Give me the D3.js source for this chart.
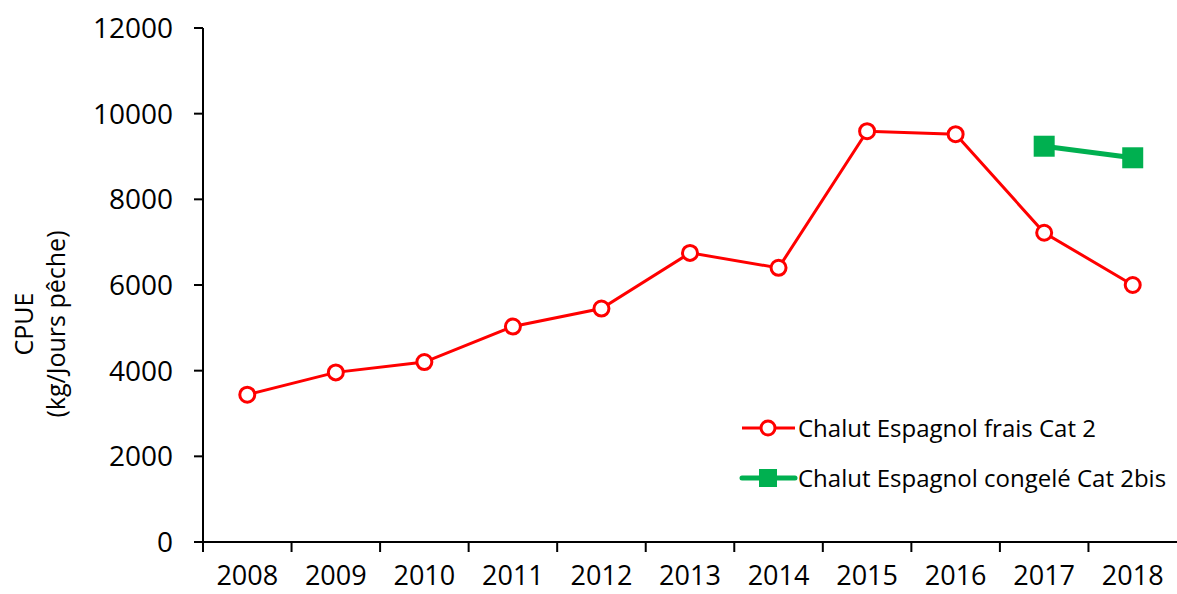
<!DOCTYPE html>
<html>
<head>
<meta charset="utf-8">
<script src="https://cdn.jsdelivr.net/npm/d3@7"></script>
<style>
  body { margin: 0; background: #fff; }
  text { font-family: "Open Sans", sans-serif; fill: #000; }
</style>
</head>
<body>
<div id="chart"></div>
<script>
// données
const years = ["2008", "2009", "2010", "2011", "2012", "2013", "2014", "2015", "2016", "2017", "2018"];
const fraisValues = [3440, 3960, 4200, 5030, 5450, 6750, 6400, 9590, 9520, 7220, 6000];
const congeleValues = [null, null, null, null, null, null, null, null, null, 9240, 8970];
const yTicks = [0, 2000, 4000, 6000, 8000, 10000, 12000];
const seriesNames = ["Chalut Espagnol frais Cat 2", "Chalut Espagnol congelé Cat 2bis"];

const width = 1177;
const height = 594;
const red = "#ff0000";
const green = "#00b050";

const svg = d3.select("#chart")
  .append("svg")
  .attr("width", width)
  .attr("height", height);

const x = d3.scaleBand()
  .domain(years)
  .range([203, 1177])
  .padding(0);

const y = d3.scaleLinear()
  .domain([0, 12000])
  .range([542, 28]);

// axe Y
const yAxis = svg.append("g");
yAxis.append("line")
  .attr("x1", 203).attr("x2", 203)
  .attr("y1", y(12000)).attr("y2", y(0))
  .attr("stroke", "#000").attr("stroke-width", 2);
yAxis.selectAll(".ytick")
  .data(yTicks)
  .join("line")
  .attr("x1", 194).attr("x2", 203)
  .attr("y1", d => y(d)).attr("y2", d => y(d))
  .attr("stroke", "#000").attr("stroke-width", 2);
yAxis.selectAll("text")
  .data(yTicks)
  .join("text")
  .attr("x", 173)
  .attr("y", d => y(d))
  .attr("dy", "0.36em")
  .attr("text-anchor", "end")
  .style("font-size", "28px")
  .text(d => d);

// axe X (graduations entre les catégories)
const xAxis = svg.append("g");
xAxis.append("line")
  .attr("x1", 195).attr("x2", 1177)
  .attr("y1", y(0)).attr("y2", y(0))
  .attr("stroke", "#000").attr("stroke-width", 2);
xAxis.selectAll(".xtick")
  .data(years)
  .join("line")
  .attr("x1", d => x(d)).attr("x2", d => x(d))
  .attr("y1", y(0)).attr("y2", y(0) + 10)
  .attr("stroke", "#000").attr("stroke-width", 2);
xAxis.selectAll("text")
  .data(years)
  .join("text")
  .attr("x", d => x(d) + x.bandwidth() / 2)
  .attr("y", 585)
  .attr("text-anchor", "middle")
  .style("font-size", "27px")
  .text(d => d);

// titre de l'axe Y
const yTitle = svg.append("text")
  .attr("transform", "translate(33,324) rotate(-90)")
  .attr("text-anchor", "middle")
  .style("font-size", "25px");
yTitle.append("tspan").attr("x", 0).attr("y", 0).text("CPUE");
yTitle.append("tspan").attr("x", 0).attr("y", 32).text("(kg/Jours pêche)");

const cx = i => x(years[i]) + x.bandwidth() / 2;

// série frais
const line = d3.line()
  .defined(d => d != null)
  .x((d, i) => cx(i))
  .y(d => y(d));

svg.append("path")
  .datum(fraisValues)
  .attr("fill", "none")
  .attr("stroke", red)
  .attr("stroke-width", 3)
  .attr("d", line);

svg.append("g")
  .selectAll("circle")
  .data(fraisValues)
  .join("circle")
  .attr("cx", (d, i) => cx(i))
  .attr("cy", d => y(d))
  .attr("r", 7.5)
  .attr("fill", "#fff")
  .attr("stroke", red)
  .attr("stroke-width", 3);

// série congelé
svg.append("path")
  .datum(congeleValues)
  .attr("fill", "none")
  .attr("stroke", green)
  .attr("stroke-width", 5)
  .attr("d", line);

svg.append("g")
  .selectAll("rect")
  .data(congeleValues.map((v, i) => ({ v, i })).filter(d => d.v != null))
  .join("rect")
  .attr("x", d => cx(d.i) - 10.5)
  .attr("y", d => y(d.v) - 10.5)
  .attr("width", 21)
  .attr("height", 21)
  .attr("fill", green);

// légende
const legend = svg.append("g");
const legendY = [428, 478];

legend.append("line")
  .attr("x1", 742).attr("x2", 795)
  .attr("y1", legendY[0]).attr("y2", legendY[0])
  .attr("stroke", red).attr("stroke-width", 3);
legend.append("circle")
  .attr("cx", 768).attr("cy", legendY[0]).attr("r", 7)
  .attr("fill", "#fff").attr("stroke", red).attr("stroke-width", 3);

legend.append("line")
  .attr("x1", 742).attr("x2", 795)
  .attr("y1", legendY[1]).attr("y2", legendY[1])
  .attr("stroke", green).attr("stroke-width", 5).attr("stroke-linecap", "round");
legend.append("rect")
  .attr("x", 759).attr("y", legendY[1] - 9)
  .attr("width", 18).attr("height", 18)
  .attr("fill", green);

legend.selectAll("text")
  .data(seriesNames)
  .join("text")
  .attr("x", 798)
  .attr("y", (d, i) => legendY[i])
  .attr("dy", "0.36em")
  .style("font-size", "24px")
  .text(d => d);
</script>
</body>
</html>
